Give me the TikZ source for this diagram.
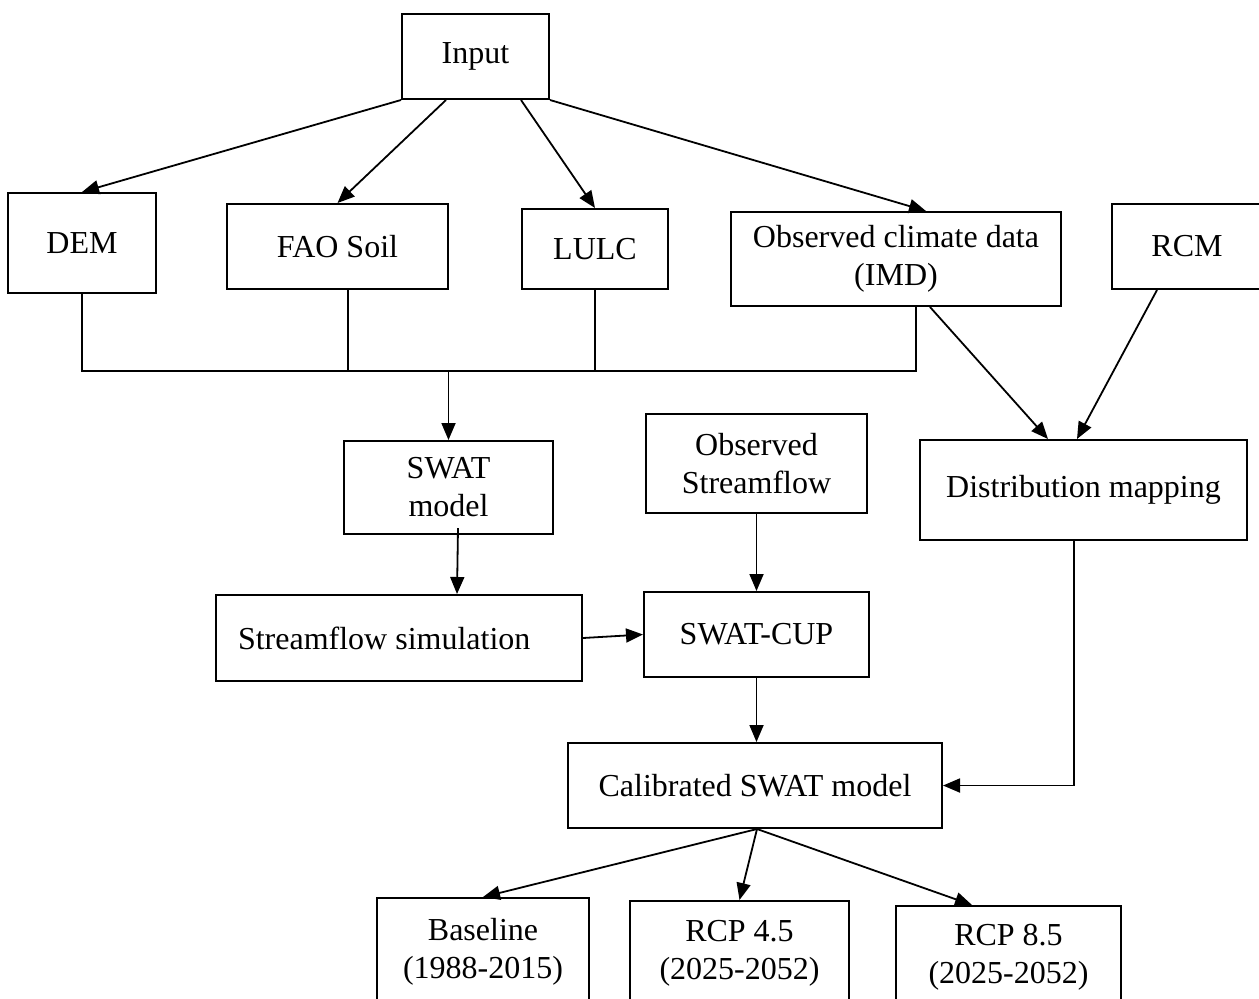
\documentclass[tikz,border=0pt]{standalone}
\usepackage{fontspec}
\setmainfont{Liberation Serif}
\usetikzlibrary{arrows.meta, positioning, calc}

\begin{document}
\begin{tikzpicture}[
  x=0.5pt, y=-0.5pt,
  font=\fontsize{16}{19}\selectfont,
  >={Triangle[length=8.5pt, width=7pt]},
  box/.style={draw, line width=1pt, align=center, inner sep=0pt},
  flow/.style={->, line width=0.9pt},
  link/.style={line width=0.9pt},
]
\useasboundingbox (0,0) rectangle (1259,998);
\clip (0,0) rectangle (1259,998);

% ---------------------------- the input -----------------------------------
\node[box, minimum width=73.5pt, minimum height=42.5pt] (input) at (475.5,56.5) {Input};

% ---------------------------- the data sets -------------------------------
\node[box, minimum width=74pt, minimum height=50pt] (dem) at (82,243) {DEM};
\node[box, minimum width=110.5pt, minimum height=42.5pt] (fao) at (337.5,246.5) {FAO Soil};
\node[box, minimum width=73pt, minimum height=40pt] (lulc) at (595,249) {LULC};
\node[box, minimum width=165pt, minimum height=47pt] (imd) at (896,259)
  {Observed climate data\\(IMD)};
\node[box, minimum width=75pt, minimum height=42.5pt] (rcm) at (1187,246.5) {RCM};

% ---------------------------- the model -----------------------------------
\node[box, minimum width=104.5pt, minimum height=46.5pt] (swat) at (448.5,487.5)
  {SWAT\\model};
\node[box, minimum width=110.5pt, minimum height=49.5pt] (obssf) at (756.5,463.5)
  {Observed\\Streamflow};
\node[box, minimum width=163.5pt, minimum height=50pt] (dist) at (1083.5,490)
  {Distribution mapping};

\node[box, align=flush left, text width=161pt, inner xsep=11pt, minimum height=43pt]
  (sim) at (399,638) {Streamflow simulation};
\node[box, minimum width=112.5pt, minimum height=42.5pt] (cup) at (756.5,634.5) {SWAT-CUP};

\node[box, minimum width=187pt, minimum height=42.5pt] (calib) at (755,785.5)
  {Calibrated SWAT model};

% ---------------------------- the scenarios -------------------------------
\node[box, minimum width=106pt, minimum height=54pt] (base) at (483,952)
  {Baseline\\(1988-2015)};
\node[box, minimum width=109.5pt, minimum height=52pt] (rcp45) at (739.5,953)
  {RCP 4.5\\(2025-2052)};
\node[box, minimum width=112.5pt, minimum height=51pt] (rcp85) at (1008.5,957)
  {RCP 8.5\\(2025-2052)};

% ---------------------------- flow ----------------------------------------
\draw[flow] (input.south west) -- (dem.north);
\draw[flow] ([xshift=22.5pt]input.south west) -- (fao.north);
\draw[flow] ([xshift=60pt]input.south west) -- (lulc.north);
\draw[flow] (input.south east) -- ([xshift=15pt]imd.north);

% the four data sets meet on one bus above the model
\coordinate (bus) at (448.5,371);
\draw[link] (dem.south) |- ([xshift=10pt]imd.south |- bus) -- ([xshift=10pt]imd.south);
\draw[link] ([xshift=5.25pt]fao.south) -- ([xshift=5.25pt]fao.south |- bus);
\draw[link] (lulc.south) -- (lulc.south |- bus);
\draw[flow] (bus) -- (swat.north);

\draw[flow] ([xshift=4.75pt, yshift=3.5pt]swat.south) -- ([xshift=29pt]sim.north);
\draw[flow] (sim.east) -- (cup.west);
\draw[flow] (obssf.south) -- (cup.north);
\draw[flow] (cup.south) -- (cup.south |- calib.north);

% climate data and RCM go to the bias correction
\draw[flow] ([xshift=17pt]imd.south) -- ([xshift=-17.75pt]dist.north);
\draw[flow] ([xshift=-15pt]rcm.south) -- ([xshift=-3.25pt]dist.north);
\draw[flow] ([xshift=-4.75pt]dist.south) |- (calib.east);

\draw[flow] ([xshift=1pt]calib.south) -- (base.north);
\draw[flow] ([xshift=1pt]calib.south) -- (rcp45.north);
\draw[flow] ([xshift=1pt]calib.south) -- ([xshift=-18.25pt]rcp85.north);

\end{tikzpicture}
\end{document}
